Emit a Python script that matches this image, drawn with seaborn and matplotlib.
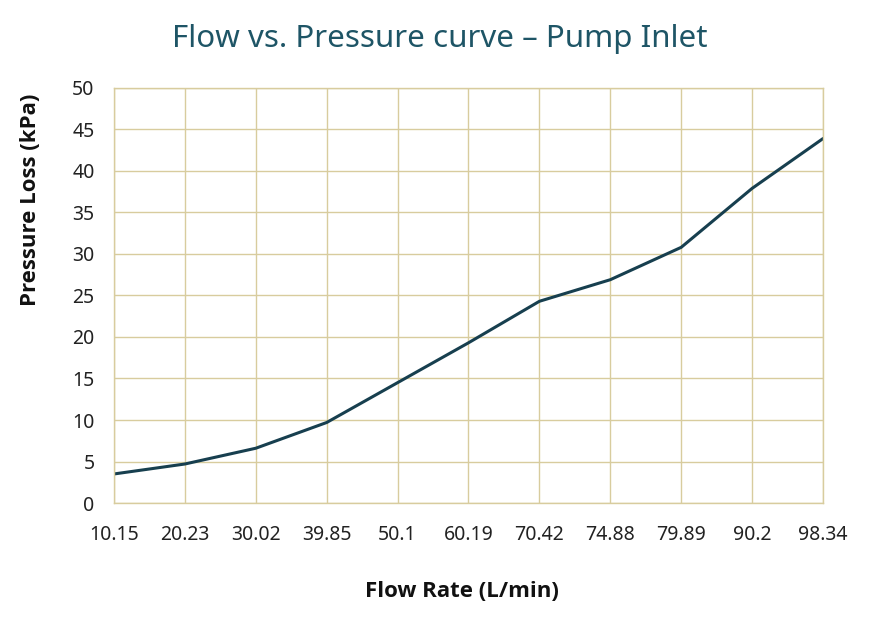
import matplotlib
matplotlib.use("Agg")
import matplotlib.pyplot as plt
import seaborn as sns
import pandas as pd

# ── data ──────────────────────────────────────────────────────────────────────
flow_labels = ["10.15", "20.23", "30.02", "39.85", "50.1", "60.19",
               "70.42", "74.88", "79.89", "90.2", "98.34"]
pressure_loss = [3.5, 4.7, 6.6, 9.7, 14.5, 19.3, 24.3, 26.9, 30.8, 37.9, 43.9]
y_ticks = [0, 5, 10, 15, 20, 25, 30, 35, 40, 45, 50]

LINE_COLOR = "#173f4f"
GRID_COLOR = "#d8cc9e"
TITLE_COLOR = "#1e5566"

sns.set_theme(style="white")
plt.rcParams["font.family"] = ["Noto Sans", "DejaVu Sans"]

df = pd.DataFrame({"flow": flow_labels, "loss": pressure_loss})

fig = plt.figure(figsize=(8.7, 6.28), dpi=100)
ax = fig.add_axes([0.131, 0.199, 0.815, 0.661])

sns.lineplot(data=df, x="flow", y="loss", sort=False, color=LINE_COLOR,
             linewidth=2.2, ax=ax)

ax.set_xlim(0, len(flow_labels) - 1)
ax.set_ylim(0, 50)
ax.set_yticks(y_ticks)
ax.set_xticks(range(len(flow_labels)))
ax.set_xticklabels(flow_labels)

ax.grid(True, color=GRID_COLOR, linewidth=1.0)
ax.set_axisbelow(True)
for sp in ax.spines.values():
    sp.set_color(GRID_COLOR)
    sp.set_linewidth(1.0)

ax.tick_params(axis="both", length=0, labelsize=14, colors="#222222")
ax.tick_params(axis="y", pad=14)
ax.tick_params(axis="x", pad=16)

label_font = dict(family=["Open Sans", "DejaVu Sans"], fontsize=16,
                  fontweight="bold", color="#111111")
ax.set_xlabel("Flow Rate (L/min)", va="center", **label_font)
ax.set_ylabel("Pressure Loss (kPa)", va="center", **label_font)
ax.xaxis.set_label_coords(0.491, -0.212)
ax.yaxis.set_label_coords(-0.118, 0.73)

fig.suptitle("Flow vs. Pressure curve \u2013 Pump Inlet", fontsize=22.5,
             color=TITLE_COLOR, y=0.938, x=0.505, va="center")

fig.savefig("out.png", dpi=100)
